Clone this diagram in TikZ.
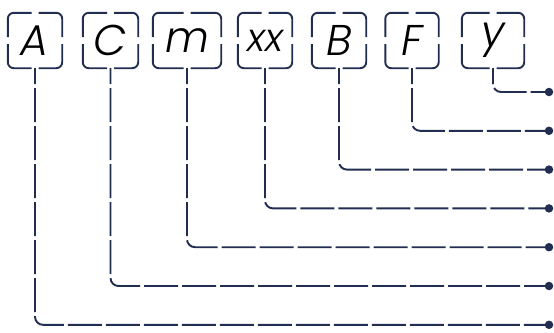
\documentclass[tikz,border=0pt]{standalone}
\usepackage{fontspec}
\newfontfamily\pfont{Poppins Light Italic}
\definecolor{navy}{RGB}{33,46,82}
\begin{document}
\begin{tikzpicture}[x=1pt,y=-1pt,
  lbl/.style={inner sep=0pt, minimum height=55pt, font=\pfont\fontsize{43}{43}\selectfont, text=black},
  edge/.style={navy, line width=1.9pt, rounded corners=8pt, dash pattern=on 34pt off 4pt, dash phase=18pt},
  dot/.style={circle, fill=navy, inner sep=0pt, minimum size=8.5pt}]
\useasboundingbox (0,0) rectangle (554,332);
\newcommand\mygapbox[1]{%
  \draw[navy, line width=1.9pt, rounded corners=6pt]
    ([xshift=3.5pt]#1.north) -| ([yshift=3.5pt]#1.east)
    ([yshift=-3.5pt]#1.east) |- ([xshift=3.5pt]#1.south)
    ([xshift=-3.5pt]#1.south) -| ([yshift=-3.5pt]#1.west)
    ([yshift=3.5pt]#1.west) |- ([xshift=-3.5pt]#1.north);}
\node[lbl, minimum width=54pt] (A) at (35,40.5) {A};
\node[lbl, minimum width=55pt] (C) at (110.5,40.5) {C};
\node[lbl, minimum width=68pt] (m) at (187,40.5) {m};
\node[lbl, minimum width=54pt] (xx) at (265,40.5) {\fontsize{39}{39}\selectfont xx};
\node[lbl, minimum width=54pt] (B) at (339,40.5) {B};
\node[lbl, minimum width=53pt] (F) at (412,40.5) {F};
\node[lbl, minimum width=62pt] (y) at (493,40.5) {y};
\foreach \n in {A,C,m,xx,B,F,y} {\mygapbox{\n}}
\node[dot] (dy) at (549,92) {};
\node[dot] (dF) at (549,130.8) {};
\node[dot] (dB) at (549,169.6) {};
\node[dot] (dxx) at (549,208.4) {};
\node[dot] (dm) at (549,247.2) {};
\node[dot] (dC) at (549,286) {};
\node[dot] (dA) at (549,324.8) {};
\foreach \n in {A,C,m,xx,B,F,y} {\draw[edge] (\n.south) |- (d\n.center);}
\end{tikzpicture}
\end{document}
